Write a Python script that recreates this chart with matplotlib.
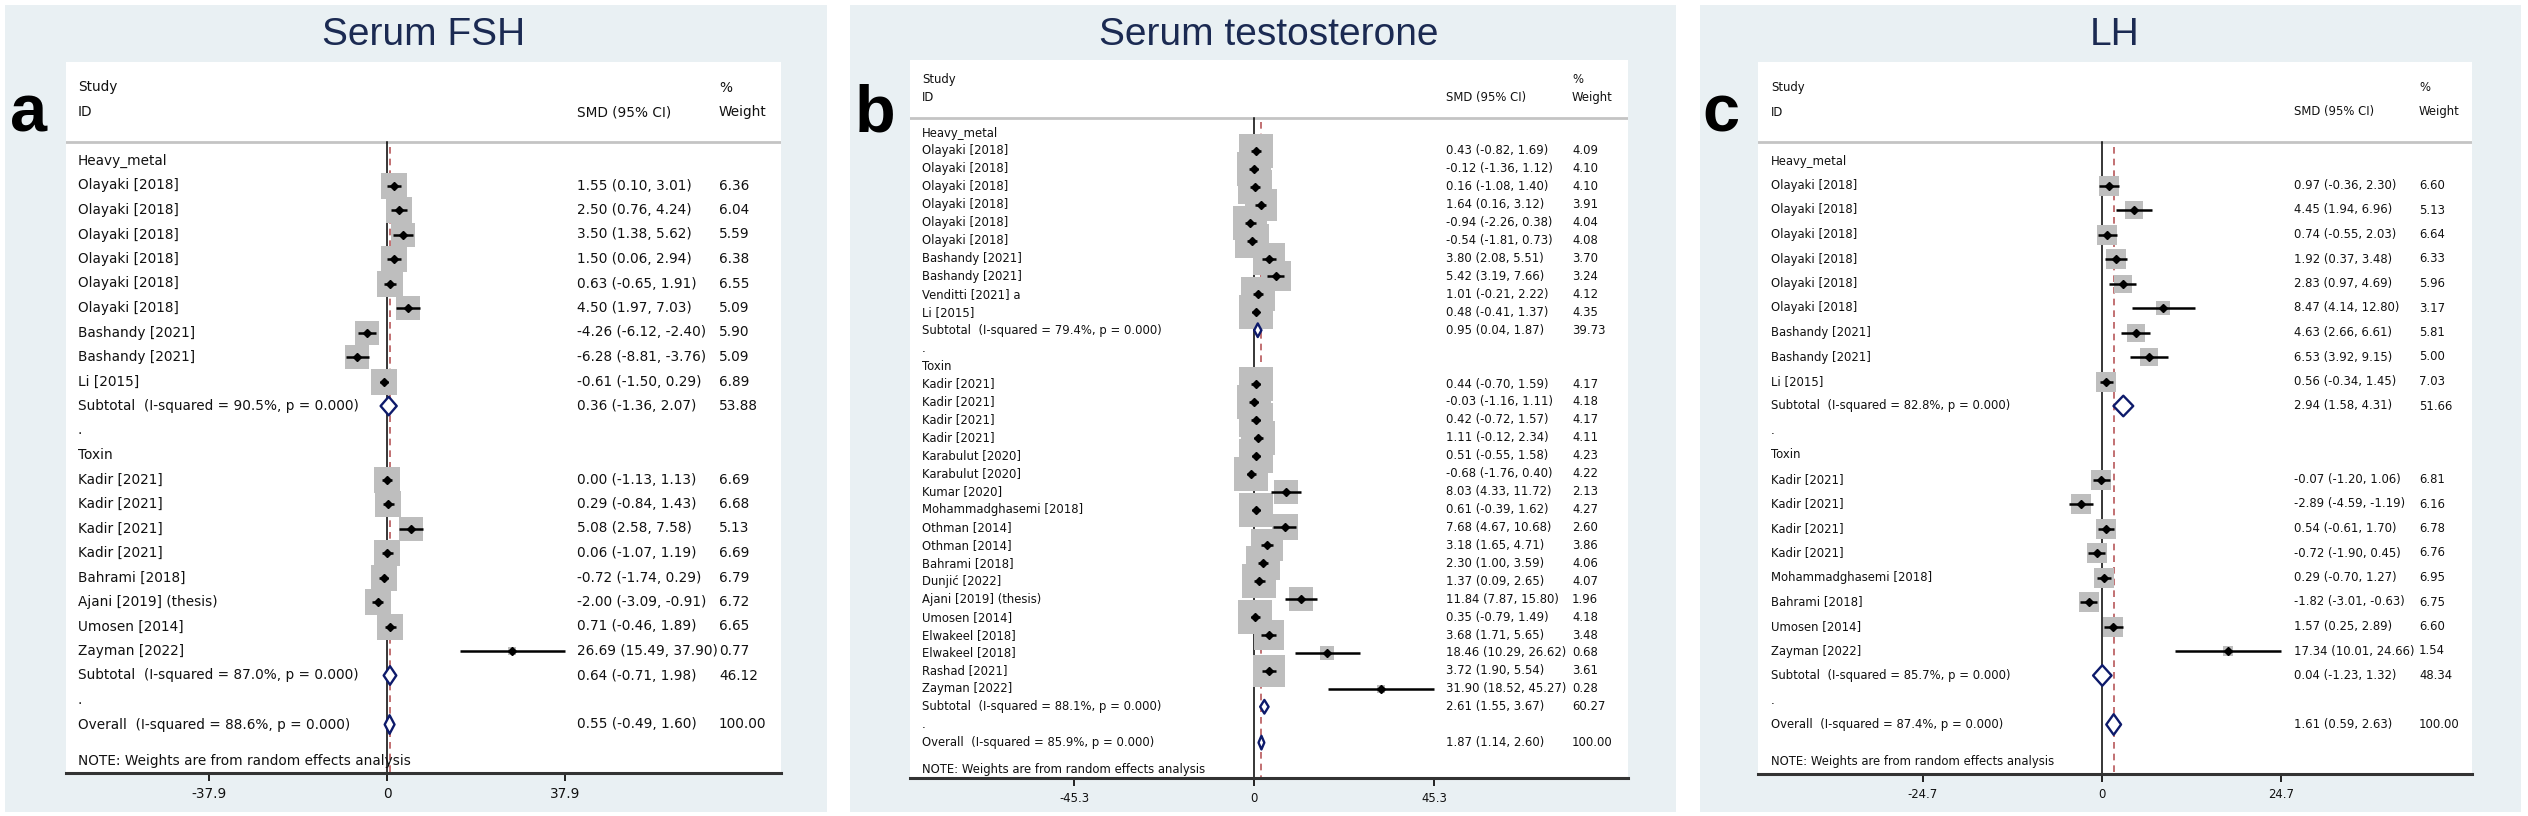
import matplotlib.pyplot as plt
from matplotlib.patches import Rectangle, Polygon

# ---- Serum FSH ----
fsh_metal_ids = ["Olayaki [2018]"] * 6 + ["Bashandy [2021]"] * 2 + ["Li [2015]"]
fsh_metal_smd = [1.55, 2.50, 3.50, 1.50, 0.63, 4.50, -4.26, -6.28, -0.61]
fsh_metal_lo = [0.10, 0.76, 1.38, 0.06, -0.65, 1.97, -6.12, -8.81, -1.50]
fsh_metal_hi = [3.01, 4.24, 5.62, 2.94, 1.91, 7.03, -2.40, -3.76, 0.29]
fsh_metal_w = [6.36, 6.04, 5.59, 6.38, 6.55, 5.09, 5.90, 5.09, 6.89]
fsh_toxin_ids = ["Kadir [2021]"] * 4 + ["Bahrami [2018]", "Ajani [2019] (thesis)",
                                         "Umosen [2014]", "Zayman [2022]"]
fsh_toxin_smd = [0.00, 0.29, 5.08, 0.06, -0.72, -2.00, 0.71, 26.69]
fsh_toxin_lo = [-1.13, -0.84, 2.58, -1.07, -1.74, -3.09, -0.46, 15.49]
fsh_toxin_hi = [1.13, 1.43, 7.58, 1.19, 0.29, -0.91, 1.89, 37.90]
fsh_toxin_w = [6.69, 6.68, 5.13, 6.69, 6.79, 6.72, 6.65, 0.77]
# subtotal metal, subtotal toxin, overall
fsh_pooled_smd = [0.36, 0.64, 0.55]
fsh_pooled_lo = [-1.36, -0.71, -0.49]
fsh_pooled_hi = [2.07, 1.98, 1.60]
fsh_pooled_w = [53.88, 46.12, 100.00]
fsh_i2 = [90.5, 87.0, 88.6]
fsh_tick = 37.9

# ---- Serum testosterone ----
tes_metal_ids = ["Olayaki [2018]"] * 6 + ["Bashandy [2021]"] * 2 + ["Venditti [2021] a", "Li [2015]"]
tes_metal_smd = [0.43, -0.12, 0.16, 1.64, -0.94, -0.54, 3.80, 5.42, 1.01, 0.48]
tes_metal_lo = [-0.82, -1.36, -1.08, 0.16, -2.26, -1.81, 2.08, 3.19, -0.21, -0.41]
tes_metal_hi = [1.69, 1.12, 1.40, 3.12, 0.38, 0.73, 5.51, 7.66, 2.22, 1.37]
tes_metal_w = [4.09, 4.10, 4.10, 3.91, 4.04, 4.08, 3.70, 3.24, 4.12, 4.35]
tes_toxin_ids = (["Kadir [2021]"] * 4 + ["Karabulut [2020]"] * 2 +
                 ["Kumar [2020]", "Mohammadghasemi [2018]", "Othman [2014]", "Othman [2014]",
                  "Bahrami [2018]", "Dunjić [2022]", "Ajani [2019] (thesis)", "Umosen [2014]",
                  "Elwakeel [2018]", "Elwakeel [2018]", "Rashad [2021]", "Zayman [2022]"])
tes_toxin_smd = [0.44, -0.03, 0.42, 1.11, 0.51, -0.68, 8.03, 0.61, 7.68, 3.18,
                 2.30, 1.37, 11.84, 0.35, 3.68, 18.46, 3.72, 31.90]
tes_toxin_lo = [-0.70, -1.16, -0.72, -0.12, -0.55, -1.76, 4.33, -0.39, 4.67, 1.65,
                1.00, 0.09, 7.87, -0.79, 1.71, 10.29, 1.90, 18.52]
tes_toxin_hi = [1.59, 1.11, 1.57, 2.34, 1.58, 0.40, 11.72, 1.62, 10.68, 4.71,
                3.59, 2.65, 15.80, 1.49, 5.65, 26.62, 5.54, 45.27]
tes_toxin_w = [4.17, 4.18, 4.17, 4.11, 4.23, 4.22, 2.13, 4.27, 2.60, 3.86,
               4.06, 4.07, 1.96, 4.18, 3.48, 0.68, 3.61, 0.28]
tes_pooled_smd = [0.95, 2.61, 1.87]
tes_pooled_lo = [0.04, 1.55, 1.14]
tes_pooled_hi = [1.87, 3.67, 2.60]
tes_pooled_w = [39.73, 60.27, 100.00]
tes_i2 = [79.4, 88.1, 85.9]
tes_tick = 45.3

# ---- LH ----
lh_metal_ids = ["Olayaki [2018]"] * 6 + ["Bashandy [2021]"] * 2 + ["Li [2015]"]
lh_metal_smd = [0.97, 4.45, 0.74, 1.92, 2.83, 8.47, 4.63, 6.53, 0.56]
lh_metal_lo = [-0.36, 1.94, -0.55, 0.37, 0.97, 4.14, 2.66, 3.92, -0.34]
lh_metal_hi = [2.30, 6.96, 2.03, 3.48, 4.69, 12.80, 6.61, 9.15, 1.45]
lh_metal_w = [6.60, 5.13, 6.64, 6.33, 5.96, 3.17, 5.81, 5.00, 7.03]
lh_toxin_ids = ["Kadir [2021]"] * 4 + ["Mohammadghasemi [2018]", "Bahrami [2018]",
                                        "Umosen [2014]", "Zayman [2022]"]
lh_toxin_smd = [-0.07, -2.89, 0.54, -0.72, 0.29, -1.82, 1.57, 17.34]
lh_toxin_lo = [-1.20, -4.59, -0.61, -1.90, -0.70, -3.01, 0.25, 10.01]
lh_toxin_hi = [1.06, -1.19, 1.70, 0.45, 1.27, -0.63, 2.89, 24.66]
lh_toxin_w = [6.81, 6.16, 6.78, 6.76, 6.95, 6.75, 6.60, 1.54]
lh_pooled_smd = [2.94, 0.04, 1.61]
lh_pooled_lo = [1.58, -1.23, 0.59]
lh_pooled_hi = [4.31, 1.32, 2.63]
lh_pooled_w = [51.66, 48.34, 100.00]
lh_i2 = [82.8, 85.7, 87.4]
lh_tick = 24.7

groups = ["Heavy_metal", "Toxin"]

W, H = 2528, 816
BG = "#e9f0f3"
NAVY = "#0d1a6b"
BOXC = "#bebebe"
DASH = "#b8585a"

fig = plt.figure(figsize=(W / 100, H / 100), dpi=100)
fig.patch.set_facecolor("white")


def fx(px):
    return px / W


def fy(py):
    return 1 - py / H


def forest(metal, toxin, pooled, i2, tick, letter, title, lay):
    bx0, bx1 = lay["bg"]
    fig.add_artist(Rectangle((fx(bx0), fy(812)), fx(bx1 - bx0), 807 / H,
                             transform=fig.transFigure, facecolor=BG,
                             edgecolor="none", zorder=-1))
    x0, x1, y0, y1 = lay["white"]
    ax = fig.add_axes([fx(x0), fy(y1), fx(x1 - x0), (y1 - y0) / H])
    ax.set_facecolor("white")
    zx, ppu, r0y, sp = lay["zx"], lay["ppu"], lay["r0y"], lay["sp"]
    ax.set_xlim((x0 - zx) / ppu, (x1 - zx) / ppu)
    ax.set_ylim((y1 - r0y) / sp, (y0 - r0y) / sp)
    dx = lambda px: (px - zx) / ppu
    cs, cv, cw = dx(lay["cols"][0]), dx(lay["cols"][1]), dx(lay["cols"][2])
    fs = lay["fs"]
    tk = dict(fontsize=fs, va="center", ha="left", color="#111111")

    # header
    ax.text(cs, -3, "Study", **tk)
    ax.text(cs, -2, "ID", **tk)
    ax.text(cv, -2, "SMD (95% CI)", **tk)
    ax.text(cw, -3, "%", **tk)
    ax.text(cw, -2, "Weight", **tk)
    hr = lay["hdr"]
    ax.axhline(hr, color="#c4c4c4", lw=2, zorder=1)

    pooled_rows = []
    r = 0
    for g, (ids, smd, lo, hi, w) in enumerate([metal, toxin]):
        ax.text(cs, r, groups[g], **tk)
        r += 1
        for i in range(len(ids)):
            ax.text(cs, r, ids[i], **tk)
            ax.text(cv, r, f"{smd[i]:.2f} ({lo[i]:.2f}, {hi[i]:.2f})", **tk)
            ax.text(cw, r, f"{w[i]:.2f}", **tk)
            side = lay["boxk"] * w[i] ** 0.5 * 0.72
            ax.scatter([smd[i]], [r], marker="s", s=side ** 2, color=BOXC,
                       linewidths=0, zorder=2)
            ax.plot([lo[i], hi[i]], [r, r], color="black", lw=1.8, zorder=3,
                    solid_capstyle="butt")
            ax.plot([smd[i]], [r], marker="D", ms=4, color="black", zorder=4)
            r += 1
        pooled_rows.append((r, g))
        ax.text(cs, r, f"Subtotal  (I-squared = {i2[g]:.1f}%, p = 0.000)", **tk)
        r += 1
        ax.text(cs, r, ".", **tk)
        r += 1
    pooled_rows.append((r, 2))
    ax.text(cs, r, f"Overall  (I-squared = {i2[2]:.1f}%, p = 0.000)", **tk)
    psmd, plo, phi, pw = pooled
    h = lay["dh"]
    for rr, k in pooled_rows:
        ax.text(cv, rr, f"{psmd[k]:.2f} ({plo[k]:.2f}, {phi[k]:.2f})", **tk)
        ax.text(cw, rr, f"{pw[k]:.2f}", **tk)
        ax.add_patch(Polygon([(plo[k], rr), (psmd[k], rr - h), (phi[k], rr),
                              (psmd[k], rr + h)], closed=True, facecolor="white",
                             edgecolor=NAVY, lw=1.7, joinstyle="round", zorder=3))
    ax.text(cs, r + 1.5, "NOTE: Weights are from random effects analysis", **tk)

    ybot = (y1 - r0y) / sp
    ax.plot([0, 0], [hr, ybot], color="black", lw=1.1, zorder=1)
    ax.plot([psmd[2], psmd[2]], [hr + 0.2, ybot], color=DASH, lw=1.2,
            ls=(0, (4, 3)), zorder=1)

    for s in ["top", "left", "right"]:
        ax.spines[s].set_visible(False)
    ax.spines["bottom"].set_linewidth(2.2)
    ax.spines["bottom"].set_color("#333333")
    ax.set_yticks([])
    ax.set_xticks([-tick, 0, tick])
    ax.set_xticklabels([f"-{tick}", "0", f"{tick}"])
    ax.tick_params(axis="x", length=6, width=1.4, color="#222222", pad=4,
                   labelsize=fs, labelcolor="#111111")

    fig.text(fx((x0 + x1) / 2), fy(45), title, fontsize=28, color="#1b2a52",
             family="Liberation Sans", ha="center", va="baseline")
    fig.text(fx(lay["lx"]), fy(132), letter, fontsize=48, fontweight="bold",
             family="Liberation Sans", ha="left", va="baseline", color="black")


lay_a = dict(bg=(5, 827), white=(66, 781, 62, 773), zx=387, ppu=4.70, r0y=161,
             sp=24.5, cols=(78, 577, 719), fs=9.8, boxk=10.2, hdr=-0.78, dh=0.38, lx=10)
lay_b = dict(bg=(850, 1676), white=(910, 1628, 60, 778), zx=1254, ppu=3.974, r0y=133,
             sp=17.93, cols=(922, 1446, 1572), fs=8.4, boxk=16.5, hdr=-0.84, dh=0.38, lx=855)
lay_c = dict(bg=(1700, 2521), white=(1758, 2472, 62, 774), zx=2102, ppu=7.25, r0y=161,
             sp=24.5, cols=(1771, 2294, 2419), fs=8.4, boxk=7.7, hdr=-0.78, dh=0.42, lx=1702)

forest((fsh_metal_ids, fsh_metal_smd, fsh_metal_lo, fsh_metal_hi, fsh_metal_w),
       (fsh_toxin_ids, fsh_toxin_smd, fsh_toxin_lo, fsh_toxin_hi, fsh_toxin_w),
       (fsh_pooled_smd, fsh_pooled_lo, fsh_pooled_hi, fsh_pooled_w),
       fsh_i2, fsh_tick, "a", "Serum FSH", lay_a)
forest((tes_metal_ids, tes_metal_smd, tes_metal_lo, tes_metal_hi, tes_metal_w),
       (tes_toxin_ids, tes_toxin_smd, tes_toxin_lo, tes_toxin_hi, tes_toxin_w),
       (tes_pooled_smd, tes_pooled_lo, tes_pooled_hi, tes_pooled_w),
       tes_i2, tes_tick, "b", "Serum testosterone", lay_b)
forest((lh_metal_ids, lh_metal_smd, lh_metal_lo, lh_metal_hi, lh_metal_w),
       (lh_toxin_ids, lh_toxin_smd, lh_toxin_lo, lh_toxin_hi, lh_toxin_w),
       (lh_pooled_smd, lh_pooled_lo, lh_pooled_hi, lh_pooled_w),
       lh_i2, lh_tick, "c", "LH", lay_c)

fig.savefig("out.png", dpi=100, facecolor="white")
